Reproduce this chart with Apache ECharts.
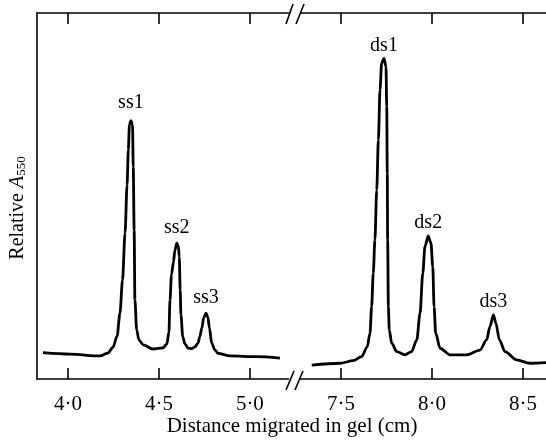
<!DOCTYPE html>
<html>
<head>
<meta charset="utf-8">
<script src="https://cdn.jsdelivr.net/npm/echarts@6/dist/echarts.min.js"></script>
<style>html,body{margin:0;padding:0;background:#fff}#c{width:546px;height:443px}</style>
</head>
<body>
<div id="c"></div>
<script>
// Left panel (single-stranded) trace: distance (cm) and relative A550
const ssX = [3.863, 4.011, 4.176, 4.220, 4.248, 4.270, 4.286, 4.300, 4.314, 4.325, 4.332, 4.338, 4.346, 4.355, 4.359, 4.364, 4.368, 4.378, 4.390, 4.414, 4.467, 4.522, 4.544, 4.555, 4.561, 4.569, 4.580, 4.588, 4.598, 4.607, 4.612, 4.617, 4.621, 4.631, 4.643, 4.661, 4.681, 4.698, 4.715, 4.725, 4.736, 4.746, 4.759, 4.769, 4.778, 4.790, 4.808, 4.826, 4.890, 5.037, 5.165];
const ssY = [7.2, 6.8, 6.3, 7.1, 8.7, 11.7, 18.0, 27.0, 39.9, 53.0, 62.6, 69.4, 70.6, 69.4, 57.9, 40.7, 21.6, 13.4, 10.7, 9.3, 8.2, 8.5, 9.6, 12.8, 21.6, 28.4, 32.0, 35.2, 37.1, 36.4, 33.3, 24.3, 17.5, 11.6, 9.6, 8.4, 8.3, 8.8, 9.8, 11.6, 13.9, 16.7, 18.0, 16.9, 13.9, 9.8, 7.9, 7.0, 6.3, 6.1, 5.7];
// Right panel (double-stranded) trace
const dsX = [7.339, 7.494, 7.567, 7.613, 7.644, 7.659, 7.668, 7.677, 7.686, 7.696, 7.705, 7.714, 7.723, 7.736, 7.747, 7.751, 7.754, 7.756, 7.760, 7.765, 7.778, 7.806, 7.851, 7.888, 7.916, 7.934, 7.949, 7.961, 7.979, 7.994, 8.004, 8.011, 8.020, 8.044, 8.099, 8.190, 8.263, 8.300, 8.318, 8.337, 8.351, 8.370, 8.401, 8.465, 8.538, 8.626];
const dsY = [3.8, 4.3, 5.0, 6.1, 8.8, 12.5, 19.8, 28.9, 38.0, 51.6, 65.3, 79.0, 86.3, 87.6, 85.3, 74.4, 56.2, 38.0, 19.8, 13.4, 9.8, 7.5, 6.6, 7.5, 10.7, 17.9, 28.9, 36.2, 39.1, 37.1, 30.7, 19.8, 12.5, 8.4, 6.6, 6.6, 7.9, 10.7, 14.3, 17.5, 15.2, 10.7, 7.5, 5.2, 4.3, 4.5];
// Peak labels and where they sit
const ssPeakNames = ['ss1', 'ss2', 'ss3'];
const ssPeakX = [4.346, 4.598, 4.759];
const dsPeakNames = ['ds1', 'ds2', 'ds3'];
const dsPeakX = [7.736, 7.979, 8.337];
// Tick values
const leftTicks = [4.0, 4.5, 5.0];
const rightTicks = [7.5, 8.0, 8.5];
const leftRange = [3.830, 5.248];
const rightRange = [7.247, 8.626];

const FONT = '"Liberation Serif", "DejaVu Serif", serif';
const ink = '#000';

const pairs = (xs, ys) => xs.map((x, i) => [x, ys[i]]);
function peakData(xs, ys, peakX, peakNames, dists) {
  return peakX.map((px, k) => ({
    name: peakNames[k], value: [px, ys[xs.indexOf(px)]],
    label: { distance: dists[k] }
  }));
}
const fmt = v => v.toFixed(1).replace('.', '\u00B7');

function xAx(grid, range, ticks, pos, showLabels) {
  return {
    type: 'value', gridIndex: grid, position: pos, min: range[0], max: range[1],
    axisLine: { show: true, onZero: false, lineStyle: { color: ink, width: 1.6 } },
    axisTick: { show: true, inside: true, length: 11, customValues: ticks, lineStyle: { color: ink, width: 1.6 } },
    axisLabel: { show: showLabels, customValues: ticks, formatter: fmt, margin: 15,
      fontFamily: FONT, fontSize: 21, color: ink },
    splitLine: { show: false }
  };
}

function lineSeries(xi, yi, data) {
  return { type: 'line', xAxisIndex: xi, yAxisIndex: yi, showSymbol: false, symbol: 'none',
    smooth: 0.3, smoothMonotone: 'x',
    lineStyle: { color: ink, width: 2.8 }, data: data };
}
function labelSeries(xi, yi, data) {
  return { type: 'scatter', xAxisIndex: xi, yAxisIndex: yi, symbolSize: 2,
    itemStyle: { color: 'rgba(255,255,255,0)' }, z: 5,
    label: { show: true, position: 'top', formatter: '{b}', fontFamily: FONT, fontSize: 20,
      color: ink, opacity: 1, textBorderWidth: 0 },
    emphasis: { disabled: true },
    labelLayout: { hideOverlap: false },
    data: data };
}

const chart = echarts.init(document.getElementById('c'), null, { renderer: 'canvas' });
chart.setOption({
  animation: false,
  backgroundColor: '#fff',
  grid: [
    { left: 37, top: 13, width: 258, height: 366 },
    { left: 295, top: 13, width: 251, height: 366 }
  ],
  xAxis: [
    xAx(0, leftRange, leftTicks, 'bottom', true),
    xAx(0, leftRange, leftTicks, 'top', false),
    xAx(1, rightRange, rightTicks, 'bottom', true),
    xAx(1, rightRange, rightTicks, 'top', false)
  ],
  yAxis: [
    { type: 'value', gridIndex: 0, min: 0, max: 100,
      axisLine: { show: true, lineStyle: { color: ink, width: 1.6 } },
      axisTick: { show: false }, axisLabel: { show: false }, splitLine: { show: false },
      name: '{r|Relative }{a|A}{s|550}', nameLocation: 'middle', nameRotate: 90, nameGap: 9,
      nameTextStyle: {
        padding: [0, 24, 0, 0],
        rich: {
          r: { fontFamily: FONT, fontSize: 20, color: ink, lineHeight: 24, verticalAlign: 'bottom' },
          a: { fontFamily: FONT, fontSize: 20, fontStyle: 'italic', color: ink, lineHeight: 24, verticalAlign: 'bottom' },
          s: { fontFamily: FONT, fontSize: 13, color: ink, lineHeight: 24, verticalAlign: 'bottom', padding: [9, 0, 0, 0] }
        }
      } },
    { type: 'value', gridIndex: 1, min: 0, max: 100, show: false }
  ],
  series: [
    lineSeries(0, 0, pairs(ssX, ssY)),
    lineSeries(2, 1, pairs(dsX, dsY)),
    labelSeries(0, 0, peakData(ssX, ssY, ssPeakX, ssPeakNames, [7, 4, 4])),
    labelSeries(2, 1, peakData(dsX, dsY, dsPeakX, dsPeakNames, [2, 2, 2]))
  ],
  graphic: [
    // axis-break gaps and marks
    { type: 'rect', shape: { x: 289, y: 10, width: 11, height: 7 }, style: { fill: '#fff' }, z: 100 },
    { type: 'rect', shape: { x: 289, y: 376, width: 11, height: 7 }, style: { fill: '#fff' }, z: 100 },
    { type: 'line', shape: { x1: 286, y1: 24, x2: 293, y2: 4 }, style: { stroke: ink, lineWidth: 1.6 }, z: 101 },
    { type: 'line', shape: { x1: 296, y1: 24, x2: 304, y2: 4 }, style: { stroke: ink, lineWidth: 1.6 }, z: 101 },
    { type: 'line', shape: { x1: 286, y1: 390, x2: 294, y2: 371 }, style: { stroke: ink, lineWidth: 1.6 }, z: 101 },
    { type: 'line', shape: { x1: 295, y1: 390, x2: 303, y2: 371 }, style: { stroke: ink, lineWidth: 1.6 }, z: 101 },
    { type: 'text', x: 292, y: 426, style: { text: 'Distance migrated in gel (cm)', fontFamily: FONT, fontSize: 21,
      fill: ink, textAlign: 'center', textVerticalAlign: 'middle' }, z: 101 }
  ]
});
</script>
</body>
</html>
